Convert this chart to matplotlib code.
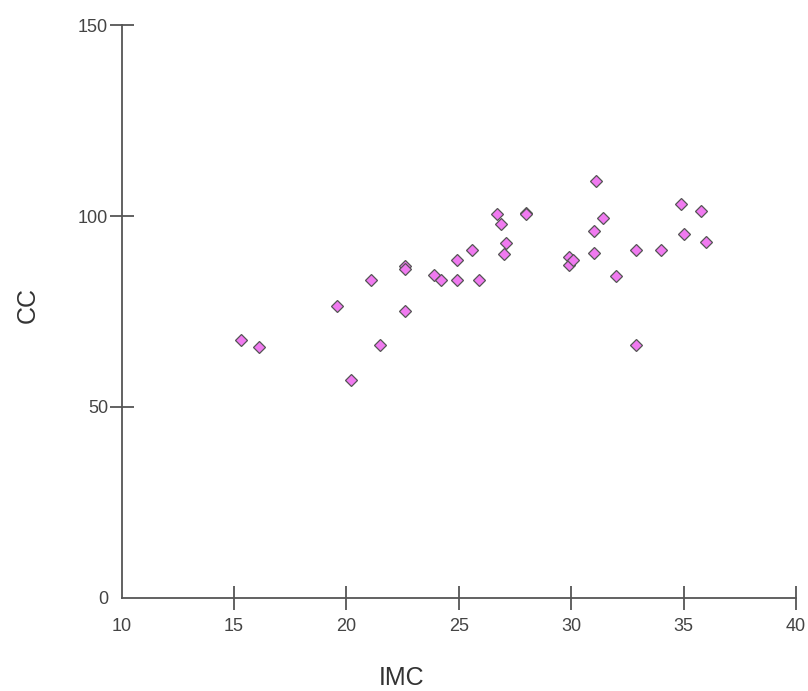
import matplotlib
matplotlib.use("Agg")
import matplotlib.pyplot as plt

plt.rcParams['font.family'] = ['Liberation Sans', 'DejaVu Sans']

# IMC (x) vs CC (y)
imc = [15.3, 16.1, 19.6, 20.2, 21.1, 21.5, 22.6, 22.6, 22.6, 23.9, 24.2,
       24.9, 24.9, 25.6, 25.9, 26.7, 26.9, 27.0, 27.1, 28.0, 28.0,
       31.1, 31.4, 31.0, 29.9, 29.9, 30.1, 31.0, 32.0, 32.9, 32.9,
       34.0, 34.9, 35.8, 35.0, 36.0]
cc = [67.5, 65.7, 76.4, 57.0, 83.2, 66.2, 86.9, 86.0, 75.2, 84.6, 83.2,
      88.4, 83.2, 91.2, 83.2, 100.4, 98.0, 90.1, 93.0, 100.9, 100.6,
      109.1, 99.4, 96.2, 89.3, 87.2, 88.5, 90.2, 84.2, 91.1, 66.2,
      91.1, 103.1, 101.3, 95.4, 93.2]

x_ticks = [10, 15, 20, 25, 30, 35, 40]
y_ticks = [0, 50, 100, 150]

fig = plt.figure(figsize=(8.08, 6.91), dpi=100)
ax = fig.add_axes([0.1506, 0.1346, 0.8344, 0.8292])

ax.plot(imc, cc, linestyle='none', marker='D', markersize=6.5,
        markerfacecolor='#f07af0', markeredgecolor='#555555', markeredgewidth=0.9)

ax.set_xlim(10, 40)
ax.set_ylim(0, 150)
ax.set_xticks(x_ticks)
ax.set_yticks(y_ticks)

for s in ['top', 'right']:
    ax.spines[s].set_visible(False)
for s in ['left', 'bottom']:
    ax.spines[s].set_color('#555555')
    ax.spines[s].set_linewidth(1.3)

ax.tick_params(axis='both', direction='inout', length=17.5, width=1.3,
               color='#555555', labelcolor='#444444', labelsize=13)
ax.tick_params(axis='x', pad=6)
ax.tick_params(axis='y', pad=1)

# no tick mark at the origin
for t in (ax.xaxis.get_major_ticks()[0], ax.yaxis.get_major_ticks()[0]):
    t.tick1line.set_visible(False)

fig.text(402 / 808, 1 - 678 / 691, 'IMC', ha='center', va='center',
         fontsize=18, color='#333333')
fig.text(28 / 808, 1 - 305 / 691, 'CC', ha='center', va='center',
         rotation=90, fontsize=18, color='#333333')

fig.savefig('out.png', dpi=100)
